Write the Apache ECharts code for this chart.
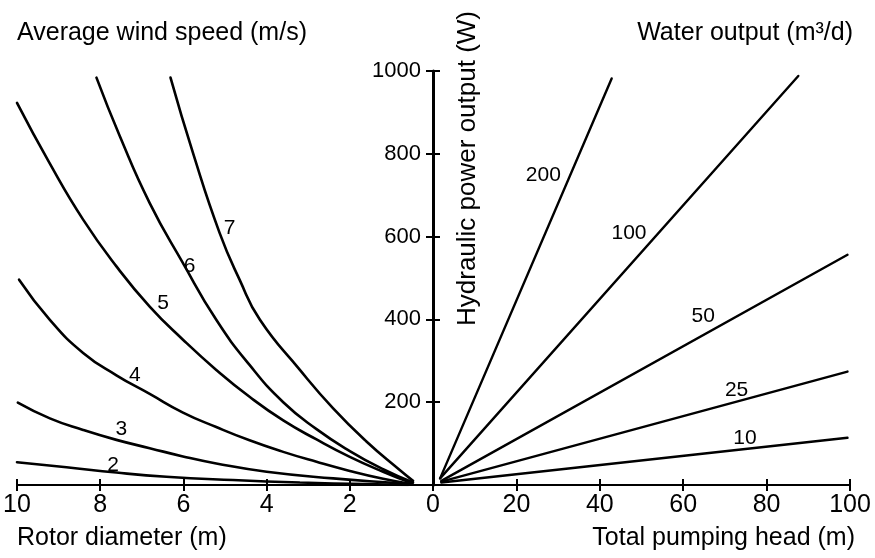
<!DOCTYPE html>
<html>
<head>
<meta charset="utf-8">
<script src="https://cdn.jsdelivr.net/npm/echarts@6/dist/echarts.min.js"></script>
<style>
html,body{margin:0;padding:0;background:#fff;}
#chart{width:875px;height:558px;}
</style>
</head>
<body>
<div id="chart"></div>
<script>
// ---- data ----
const windSpeeds = ['2', '3', '4', '5', '6', '7'];
// [rotor diameter (m), hydraulic power (W)]
const wind2 = [[10, 55], [8.81, 43], [7.61, 30], [6.41, 20], [4.81, 12], [3.2, 6], [1.6, 2], [0.6, 0]];
const wind3 = [[9.98, 199], [9.21, 161], [8.41, 133], [7.61, 109], [6.81, 89], [6.01, 69], [5.21, 52], [4.0, 32], [2.4, 16], [0.8, 4], [0.5, 1]];
const wind4 = [[9.95, 496], [9.21, 399], [8.41, 319], [7.61, 265], [6.81, 220], [6.01, 175], [5.21, 140], [4.41, 108], [3.6, 80], [2.8, 56], [2.0, 34], [1.2, 15], [0.5, 2]];
const wind5 = [[10, 923], [9.22, 778], [8.41, 641], [7.61, 528], [6.81, 431], [6.01, 351], [5.21, 278], [4.41, 213], [3.6, 156], [2.8, 110], [2.0, 68], [1.2, 32], [0.5, 4]];
const wind6 = [[8.09, 984], [7.53, 843], [6.81, 681], [6.01, 536], [5.21, 399], [4.41, 290], [3.6, 200], [2.8, 135], [2.0, 82], [1.2, 38], [0.48, 6]];
const wind7 = [[6.31, 984], [5.77, 802], [5.13, 609], [4.65, 496], [4.16, 399], [3.2, 278], [2.4, 185], [1.6, 105], [0.8, 36], [0.48, 10]];
const windCurves = [wind2, wind3, wind4, wind5, wind6, wind7];
const windLabelPos = [[7.69, 48], [7.49, 135], [7.17, 266], [6.49, 440], [5.85, 528], [4.89, 621]];

const flows = ['200', '100', '50', '25', '10'];
// [total pumping head (m), hydraulic power (W)]
const flow200 = [[1.7, 16], [42.85, 982]];
const flow100 = [[1.7, 16], [87.6, 988]];
const flow50 = [[2, 10], [99.4, 556]];
const flow25 = [[2, 8], [99.4, 274]];
const flow10 = [[2, 6], [99.4, 114]];
const flowLines = [flow200, flow100, flow50, flow25, flow10];
const flowLabelPos = [[26.45, 749], [47.0, 608], [64.8, 407], [72.8, 229], [74.8, 113]];

const diameterTicks = [0, 10, 2];   // min, max, interval
const headTicks = [0, 100, 20];
const powerTicks = [0, 1000, 200];

const titles = {
  windTitle: 'Average wind speed (m/s)',
  waterTitle: 'Water output (m³/d)',
  xLeftName: 'Rotor diameter (m)',
  xRightName: 'Total pumping head (m)',
  yName: 'Hydraulic power output (W)'
};

// ---- chart ----
const FONT = '"Liberation Sans", Arial, Helvetica, sans-serif';
const chart = echarts.init(document.getElementById('chart'), null, {renderer: 'canvas'});

const grids = [
  {left: 17, right: 442, top: 71, bottom: 73},
  {left: 433, right: 25, top: 71, bottom: 73}
];

function xAx(grid, tk, inverse, main) {
  return {
    type: 'value', gridIndex: grid, min: tk[0], max: tk[1], interval: tk[2], inverse: inverse,
    position: 'bottom',
    axisLine: {show: main, onZero: false, lineStyle: {color: '#000', width: 2}},
    axisTick: {show: true, inside: !main, length: 6, lineStyle: {color: '#000', width: 2}},
    axisLabel: {
      show: main, margin: 8, color: '#000', fontFamily: FONT, fontSize: 25,
      formatter: function (v) { return (inverse && v === 0) ? '' : String(v); }
    },
    splitLine: {show: false}
  };
}
function yAx(grid, main, visible) {
  return {
    type: 'value', gridIndex: grid, min: powerTicks[0], max: powerTicks[1], interval: powerTicks[2],
    position: 'left', show: visible,
    axisLine: {show: main, onZero: false, lineStyle: {color: '#000', width: 3}},
    axisTick: {show: true, inside: !main, length: 7, lineStyle: {color: '#000', width: 2}},
    axisLabel: {
      show: main, margin: 12, color: '#000', fontFamily: FONT, fontSize: 22,
      formatter: function (v) { return v === 0 ? '' : String(v); }
    },
    splitLine: {show: false}
  };
}

const series = [];
windCurves.forEach(function (d, i) {
  series.push({
    type: 'line', name: 'v' + windSpeeds[i], xAxisIndex: 0, yAxisIndex: 0, data: d,
    smooth: 0.5, symbol: 'none', silent: true,
    lineStyle: {color: '#000', width: 2.6, cap: 'round'}
  });
});
flowLines.forEach(function (d, i) {
  series.push({
    type: 'line', name: 'q' + flows[i], xAxisIndex: 2, yAxisIndex: 2, data: d,
    symbol: 'none', silent: true,
    lineStyle: {color: '#000', width: 2.4, cap: 'round'}
  });
});
const lblStyle = {show: true, position: 'inside', formatter: '{b}', color: '#000', opacity: 1,
  textBorderWidth: 0, fontFamily: FONT, fontSize: 21};
series.push({
  type: 'scatter', xAxisIndex: 0, yAxisIndex: 0, symbolSize: 0, silent: true,
  itemStyle: {color: '#000', opacity: 1},
  data: windLabelPos.map(function (p, i) { return {value: p, name: windSpeeds[i]}; }),
  label: lblStyle
});
series.push({
  type: 'scatter', xAxisIndex: 2, yAxisIndex: 2, symbolSize: 0, silent: true,
  itemStyle: {color: '#000', opacity: 1},
  data: flowLabelPos.map(function (p, i) { return {value: p, name: flows[i]}; }),
  label: lblStyle
});

const tStyle = {color: '#000', fontFamily: FONT, fontSize: 25, fontWeight: 'normal', lineHeight: 25};
chart.setOption({
  animation: false,
  backgroundColor: '#fff',
  title: [
    {text: titles.windTitle, left: 17, top: 21, padding: 0, textStyle: tStyle},
    {text: titles.waterTitle, right: 22, top: 21, padding: 0, textStyle: tStyle},
    {text: titles.xLeftName, left: 17, top: 526, padding: 0, textStyle: tStyle},
    {text: titles.xRightName, right: 20, top: 526, padding: 0, textStyle: tStyle}
  ],
  graphic: [{
    type: 'text', left: 455, top: 11, rotation: Math.PI / 2,
    style: {text: titles.yName, fill: '#000', font: '26px ' + FONT}
  }],
  grid: grids,
  xAxis: [
    xAx(0, diameterTicks, true, true),
    xAx(0, diameterTicks, true, false),
    xAx(1, headTicks, false, true),
    xAx(1, headTicks, false, false)
  ],
  yAxis: [
    yAx(0, false, false),
    yAx(0, false, false),
    yAx(1, true, true),
    yAx(1, false, true)
  ],
  series: series
});
</script>
</body>
</html>
